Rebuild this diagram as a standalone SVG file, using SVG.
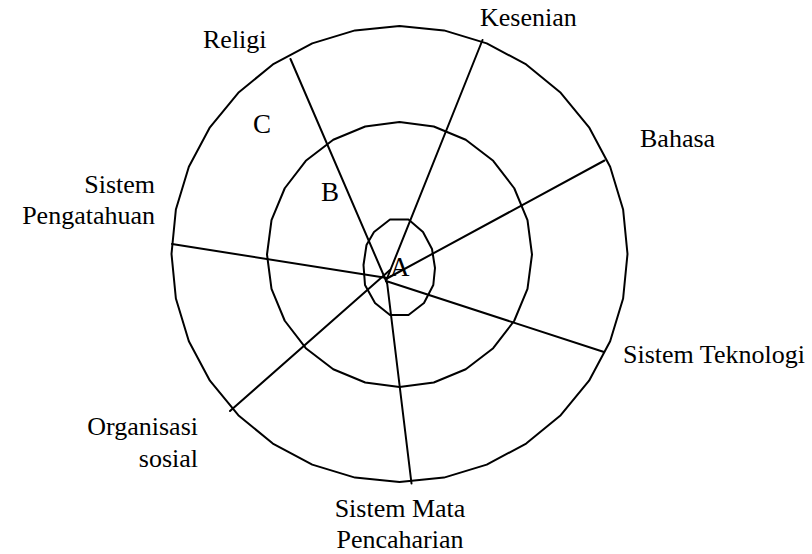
<svg xmlns="http://www.w3.org/2000/svg" width="812" height="554" viewBox="0 0 812 554">
<style>
.ring{fill:none;stroke:#000;stroke-width:2;stroke-linejoin:round}
.spoke{stroke:#000;stroke-width:2;stroke-linecap:round}
.lbl{font-family:"Liberation Serif","Times New Roman",serif;font-size:26px;fill:#000}
.big{font-family:"Liberation Serif","Times New Roman",serif;font-size:27px;fill:#000}
</style>
<rect width="812" height="554" fill="#fff"/>
<g id="ring-outer">
<polygon class="ring" points="399.5,26 443.98,30.38 486.75,43.36 526.17,64.42 560.72,92.78 589.08,127.33 610.14,166.75 623.12,209.52 627.5,254 623.12,298.48 610.14,341.25 589.08,380.67 560.72,415.22 526.17,443.58 486.75,464.64 443.98,477.62 399.5,482 355.02,477.62 312.25,464.64 272.83,443.58 238.28,415.22 209.92,380.67 188.86,341.25 175.88,298.48 171.5,254 175.88,209.52 188.86,166.75 209.92,127.33 238.28,92.78 272.83,64.42 312.25,43.36 355.02,30.38"/>
<text class="big" x="253" y="133">C</text>
</g>
<g id="ring-middle">
<polygon class="ring" points="399.5,122 433.79,126.51 465.75,139.75 493.19,160.81 514.25,188.25 527.49,220.21 532,254.5 527.49,288.79 514.25,320.75 493.19,348.19 465.75,369.25 433.79,382.49 399.5,387 365.21,382.49 333.25,369.25 305.81,348.19 284.75,320.75 271.51,288.79 267,254.5 271.51,220.21 284.75,188.25 305.81,160.81 333.25,139.75 365.21,126.51"/>
<text class="big" x="321" y="201">B</text>
</g>
<g id="ring-inner">
<polygon class="ring" points="390,219.5 408.5,219.5 423,232 432,249 435,268 433.3,285 424,303 408.5,315 390,315 375,303 365,285 363.5,265 366.5,245 374,232"/>
</g>
<g id="connectors">
<line class="spoke" x1="290.5" y1="59" x2="387" y2="283"/>
<line class="spoke" x1="482.5" y1="40" x2="386" y2="281"/>
<line class="spoke" x1="604.5" y1="160.5" x2="386" y2="279"/>
<line class="spoke" x1="604" y1="352" x2="386" y2="281"/>
<line class="spoke" x1="411.5" y1="483.5" x2="387" y2="282"/>
<line class="spoke" x1="230" y1="411" x2="390" y2="270"/>
<line class="spoke" x1="172" y1="244" x2="387" y2="278"/>
</g>
<g id="center-label">
<text class="big" x="390" y="276">A</text>
</g>
<g id="labels">
<text class="lbl" x="203" y="48">Religi</text>
<text class="lbl" x="480" y="26">Kesenian</text>
<text class="lbl" x="640" y="147">Bahasa</text>
<text class="lbl" x="155" y="193" text-anchor="end">Sistem</text>
<text class="lbl" x="155" y="224" text-anchor="end">Pengatahuan</text>
<text class="lbl" x="623" y="363">Sistem Teknologi</text>
<text class="lbl" x="198" y="435" text-anchor="end">Organisasi</text>
<text class="lbl" x="198" y="467" text-anchor="end">sosial</text>
<text class="lbl" x="400" y="517" text-anchor="middle">Sistem Mata</text>
<text class="lbl" x="400" y="548" text-anchor="middle">Pencaharian</text>
</g>
</svg>
